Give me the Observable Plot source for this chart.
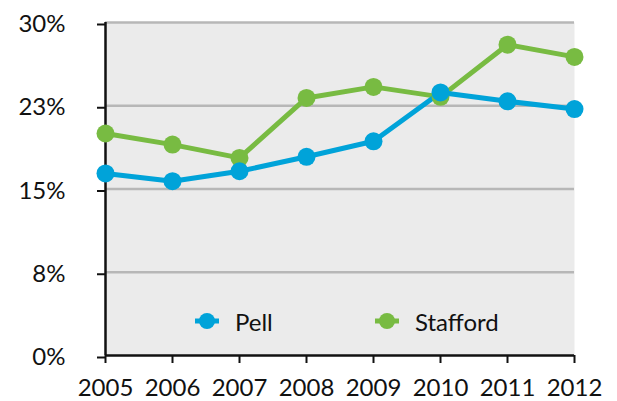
<!DOCTYPE html>
<html>
<head>
<meta charset="utf-8">
<script src="https://cdn.jsdelivr.net/npm/d3@7"></script>
<script src="https://cdn.jsdelivr.net/npm/@observablehq/plot@0.6"></script>
<style>
  html, body { margin: 0; padding: 0; background: white; }
  #wrap { position: relative; width: 617px; height: 401px; font-family: Lato, sans-serif; }
  .legend { position: absolute; top: 306px; height: 30px; display: flex; align-items: center; font-size: 24px; color: #111; }
  .legend svg { margin-right: 16px; }
</style>
</head>
<body>
<div id="wrap"></div>
<script>
const years = [2005, 2006, 2007, 2008, 2009, 2010, 2011, 2012];
const pell = [16.4, 15.7, 16.6, 17.9, 19.3, 23.7, 22.9, 22.2];
const stafford = [20.0, 19.0, 17.8, 23.2, 24.2, 23.3, 28.0, 26.9];
const seriesNames = ["Pell", "Stafford"];
const seriesColors = ["#00a3d9", "#78bb42"];
const yTicks = [0, 7.5, 15, 22.5, 30];

const rows = [];
years.forEach((yr, i) => {
  rows.push({year: yr, value: stafford[i], series: "Stafford"});
});
years.forEach((yr, i) => {
  rows.push({year: yr, value: pell[i], series: "Pell"});
});

const chart = Plot.plot({
  width: 617,
  height: 401,
  marginLeft: 105,
  marginRight: 43,
  marginTop: 22,
  marginBottom: 46,
  style: {fontFamily: "Lato, sans-serif", fontSize: "24px", color: "#111", background: "white", overflow: "visible"},
  x: {domain: [2005, 2012]},
  y: {domain: [0, 30]},
  color: {domain: seriesNames, range: seriesColors},
  marks: [
    Plot.frame({fill: "#ebebeb", stroke: null}),
    Plot.ruleY(yTicks.filter(d => d > 0), {stroke: "#b7b7b7", strokeWidth: 2.5}),
    Plot.axisY({ticks: yTicks, tickSize: 8, tickPadding: 32, tickFormat: d => Math.round(d) + "%", stroke: "#111", strokeWidth: 2, strokeOpacity: 1, label: null, fill: "#111", dy: 2}),
    Plot.axisX({ticks: years, tickSize: 8, tickPadding: 15, tickFormat: d => String(d), stroke: "#111", strokeWidth: 2, strokeOpacity: 1, label: null, fill: "#111"}),
    Plot.ruleX([2005], {stroke: "#111", strokeWidth: 2.5}),
    Plot.ruleY([0], {stroke: "#111", strokeWidth: 2.5}),
    Plot.line(rows, {x: "year", y: "value", z: "series", stroke: "series", strokeWidth: 5}),
    Plot.dot(rows, {x: "year", y: "value", fill: "series", r: 9})
  ]
});

const wrap = document.getElementById("wrap");
wrap.appendChild(chart);

const legendPos = [{left: 195}, {left: 375}];
seriesNames.forEach((name, i) => {
  const d = document.createElement("div");
  d.className = "legend";
  d.style.left = legendPos[i].left + "px";
  d.innerHTML = `<svg width="24" height="18"><line x1="0" y1="9" x2="24" y2="9" stroke="${seriesColors[i]}" stroke-width="5"/><circle cx="12" cy="9" r="8" fill="${seriesColors[i]}"/></svg><span>${name}</span>`;
  wrap.appendChild(d);
});
</script>
</body>
</html>
